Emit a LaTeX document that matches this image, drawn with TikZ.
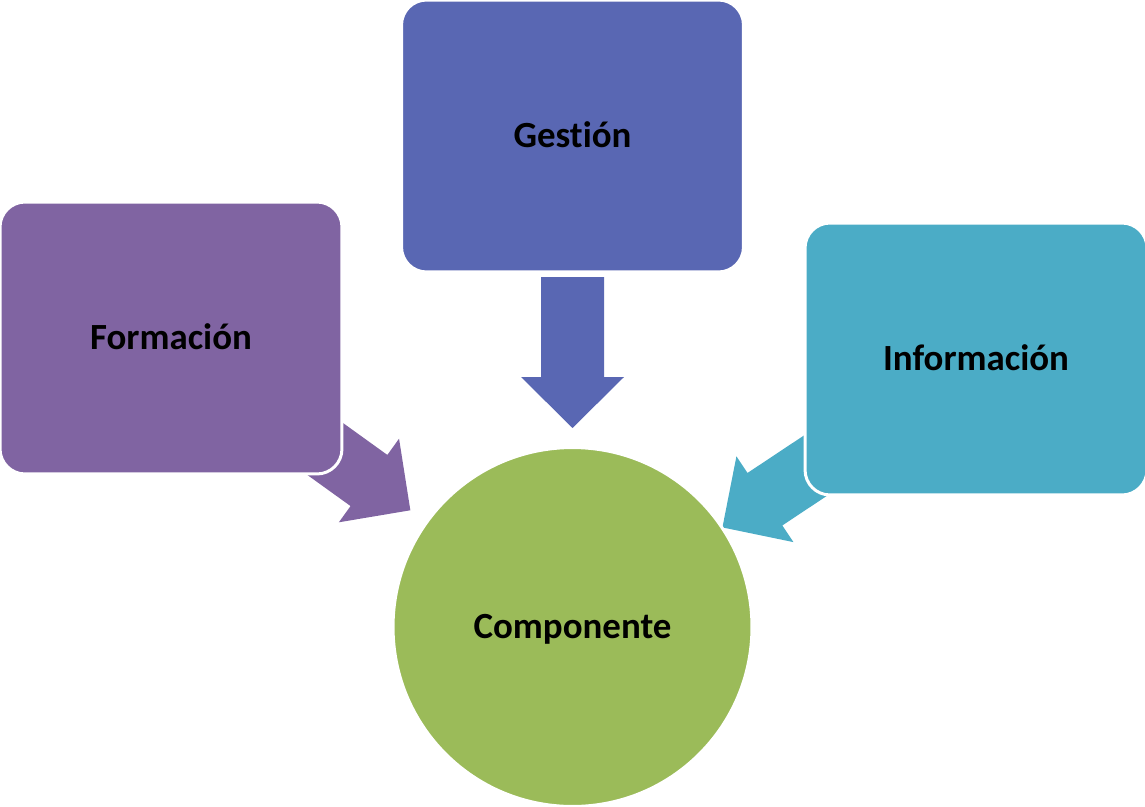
\documentclass[tikz,border=0pt]{standalone}
\usepackage{fontspec}
\setmainfont[Ligatures=NoCommon]{Carlito}
\usetikzlibrary{calc,backgrounds}

\definecolor{formcol}{HTML}{8064A2}
\definecolor{gestcol}{HTML}{5967B3}
\definecolor{infocol}{HTML}{4BACC6}
\definecolor{compcol}{HTML}{9BBB59}

% block arrow from #1 towards #2, tip #3 px from the centre of #2
\newcommand{\fatarrow}[4]{%
  \fill[#4] let \p1=($(#1)-(#2)$), \n1={atan2(\y1,\x1)},
      \p2=($(#2)+(\n1:#3)$) in
    (\p2) -- ($(\p2)+(\n1:51)+(\n1+90:51.5)$) -- ($(\p2)+(\n1:51)+(\n1+90:31.5)$)
    -- ($(\p2)+(\n1:151)+(\n1+90:31.5)$) -- ($(\p2)+(\n1:151)+(\n1-90:31.5)$)
    -- ($(\p2)+(\n1:51)+(\n1-90:31.5)$) -- ($(\p2)+(\n1:51)+(\n1-90:51.5)$) -- cycle;
}

\begin{document}
\begin{tikzpicture}[x=.02cm, y=.02cm,
    lbl/.style={draw=white, line width=1.7pt, font=\fontsize{21}{25}\selectfont\bfseries,
      text height=13.5pt, text depth=0pt},
    box/.style={lbl, rectangle, rounded corners=.5cm, minimum width=6.84cm, minimum height=5.44cm},
    hub/.style={lbl, circle, minimum size=7.18cm}]
  \useasboundingbox (0,0) rectangle (1145,806);
  \node[box, fill=formcol] (form) at (171,468) {Formación};
  \node[box, fill=gestcol] (gest) at (572.5,670) {Gestión};
  \node[box, fill=infocol] (info) at (976,447) {Información};
  \node[hub, fill=compcol] (comp) at (572.5,179) {Componente};
  \begin{pgfonlayer}{background}
    \fatarrow{form}{comp}{199.8}{formcol}
    \fatarrow{gest}{comp}{199}{gestcol}
    \fatarrow{info}{comp}{180}{infocol}
  \end{pgfonlayer}
\end{tikzpicture}
\end{document}
